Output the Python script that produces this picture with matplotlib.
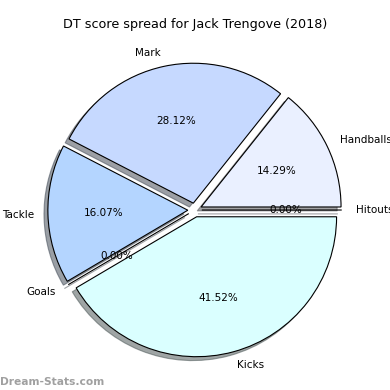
import matplotlib
matplotlib.use("Agg")
import matplotlib.pyplot as plt

labels = ["Hitouts", "Handballs", "Mark", "Tackle", "Goals", "Kicks"]
values = [0, 160, 315, 180, 0, 465]
colors = ["#e6ecff", "#eaf0ff", "#c6d9ff", "#b4d5ff", "#d0e8ff", "#daffff"]
explode = [0.05] * 6

fig = plt.figure(figsize=(3.9, 3.9), dpi=100)
ax = fig.add_axes([0.051, 0.013, 0.897, 0.897])
ax.pie(values, labels=labels, colors=colors, explode=explode, autopct="%1.2f%%",
       shadow=True, startangle=0, counterclock=True,
       wedgeprops={"edgecolor": "black", "linewidth": 0.8},
       textprops={"fontsize": 7.5})
ax.set_aspect("equal")
fig.suptitle("DT score spread for Jack Trengove (2018)", fontsize=9.2, y=0.955)
fig.text(0.0, 0.012, "Dream-Stats.com", color="#a0a0a0", fontsize=7.7, fontweight="bold")
fig.savefig("out.png", dpi=100)
